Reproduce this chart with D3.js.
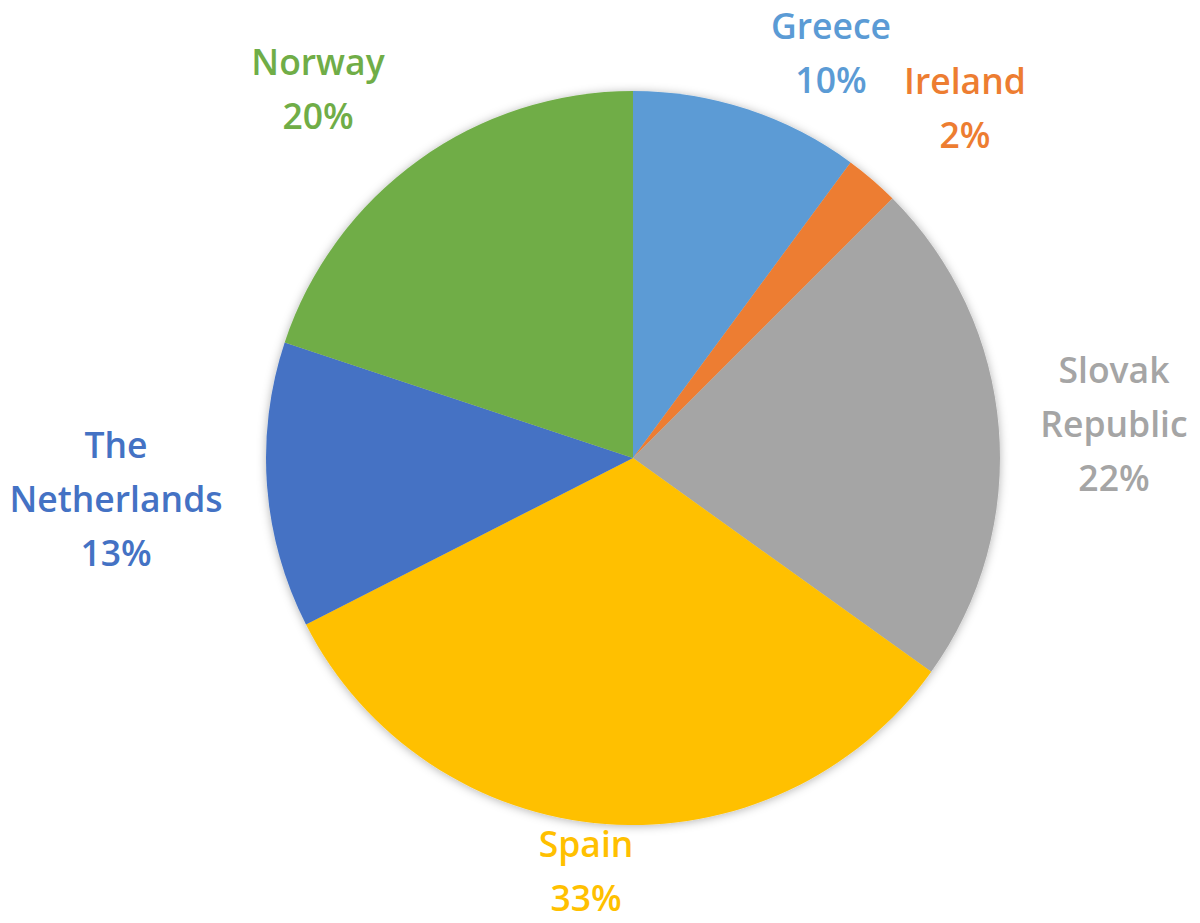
<!DOCTYPE html>
<html>
<head>
<meta charset="utf-8">
<script src="https://cdn.jsdelivr.net/npm/d3@7"></script>
<style>
  html, body { margin: 0; padding: 0; background: #ffffff; }
  svg { display: block; }
</style>
</head>
<body>
<svg id="chart" width="1200" height="923"></svg>
<script>
// ---- data ----
const countries = ["Greece", "Ireland", "Slovak Republic", "Spain", "The Netherlands", "Norway"];
const shares = [10.1, 2.4, 22.4, 32.6, 12.6, 19.9];
const colors = ["#5B9BD5", "#ED7D31", "#A5A5A5", "#FFC000", "#4472C4", "#70AD47"];
const labelLines = [["Greece"], ["Ireland"], ["Slovak", "Republic"], ["Spain"], ["The", "Netherlands"], ["Norway"]];
// label block centre offsets from the pie centre (layout)
const labelOffsets = [[198, -405], [332, -350], [481, -34], [-47, 413], [-517, 41], [-315, -369]];

// ---- layout ----
const cx = 633, cy = 458, radius = 367;
const fontSize = 35.5, lineH = 54, capH = 25;

const svg = d3.select("#chart");
const defs = svg.append("defs");
const f = defs.append("filter").attr("id", "shadow")
  .attr("x", "-10%").attr("y", "-10%").attr("width", "120%").attr("height", "120%");
f.append("feDropShadow").attr("dx", 0).attr("dy", 1).attr("stdDeviation", 5)
  .attr("flood-color", "#000").attr("flood-opacity", 0.3);

const pie = d3.pie().sort(null).value(d => d).startAngle(0).endAngle(2 * Math.PI);
const arcs = pie(shares);
const arc = d3.arc().innerRadius(0).outerRadius(radius);
const color = d3.scaleOrdinal().domain(countries).range(colors);

const g = svg.append("g").attr("transform", `translate(${cx},${cy})`);
const slices = g.append("g").attr("filter", "url(#shadow)");
slices.selectAll("path")
  .data(arcs)
  .join("path")
  .attr("d", arc)
  .attr("fill", (d, i) => color(countries[i]));

const fmt = v => Math.round(v) + "%";
const labels = g.append("g")
  .attr("font-family", "'Open Sans', sans-serif")
  .attr("font-weight", 600)
  .attr("font-size", fontSize)
  .attr("text-anchor", "middle");

arcs.forEach((d, i) => {
  const lines = labelLines[i].concat([fmt(shares[i])]);
  const [ox, oy] = labelOffsets[i];
  const n = lines.length;
  const t = labels.append("text").attr("fill", color(countries[i]));
  lines.forEach((ln, k) => {
    t.append("tspan")
      .attr("x", ox)
      .attr("y", oy + (k - (n - 1) / 2) * lineH + capH / 2)
      .text(ln);
  });
});
</script>
</body>
</html>
